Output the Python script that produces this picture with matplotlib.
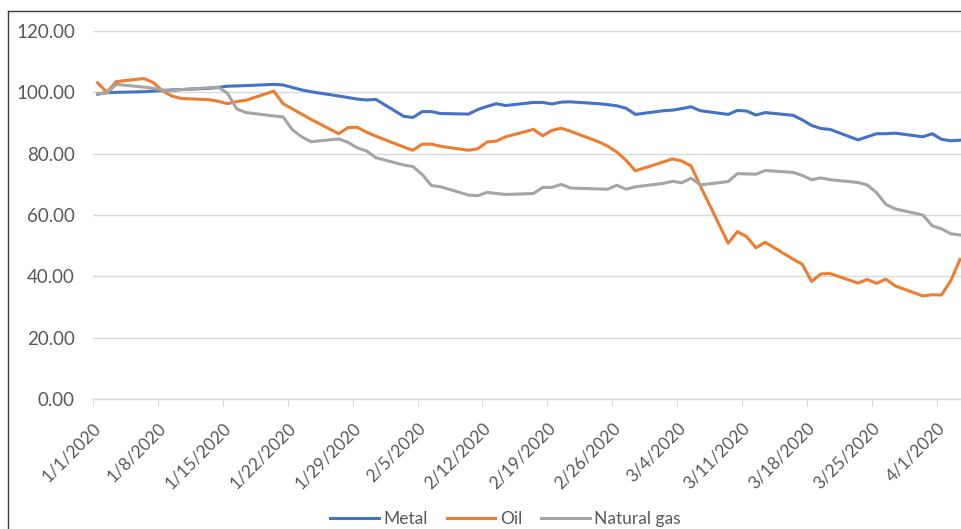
import numpy as np
import pandas as pd
import matplotlib
matplotlib.use("Agg")
import matplotlib.pyplot as plt
import matplotlib.transforms as mtransforms
from matplotlib.lines import Line2D

plt.rcParams['font.family'] = ['Lato', 'DejaVu Sans']

dates = pd.bdate_range('2020-01-01', '2020-04-03')
tick_dates = pd.date_range('2020-01-01', '2020-04-01', freq='7D')

metal = [99.4, 99.9, 100.0,
         100.2, 100.4, 100.6, 100.8, 100.9,
         101.3, 101.6, 102.0, 102.1, 102.2,
         102.6, 102.4, 101.6, 100.8, 100.2,
         98.8, 98.3, 97.8, 97.5, 97.7,
         92.2, 91.8, 93.7, 93.7, 93.1,
         92.9, 94.4, 95.4, 96.3, 95.7,
         96.7, 96.7, 96.2, 96.8, 96.9,
         96.3, 96.0, 95.6, 94.8, 92.8,
         94.0, 94.2, 94.7, 95.3, 94.0,
         92.8, 94.1, 93.9, 92.6, 93.4,
         92.5, 91.0, 89.2, 88.2, 87.9,
         84.5, 85.5, 86.5, 86.5, 86.7,
         85.5, 86.5,
         84.7, 84.2, 84.4]

oil = [103.1, 100.0, 103.5,
       104.5, 103.2, 100.5, 98.8, 98.0,
       97.6, 97.1, 96.3, 97.0, 97.4,
       100.4, 96.3, 94.6, 92.9, 91.2,
       86.5, 88.5, 88.6, 87.0, 85.7,
       82.2, 81.1, 83.1, 83.1, 82.4,
       81.1, 81.6, 83.8, 84.1, 85.5,
       87.9, 85.8, 87.6, 88.3, 87.3,
       83.9, 82.5, 80.5, 77.8, 74.4,
       77.3, 78.3, 77.6, 76.0, 69.5,
       50.8, 54.6, 52.9, 49.3, 51.1,
       45.6, 43.9, 38.3, 40.8, 40.9,
       37.8, 39.0, 37.7, 39.1, 36.9,
       33.6, 34.0,
       33.9, 38.5, 45.5]

gas = [99.6, 99.8, 102.6,
       101.7, 101.3, 100.7, 100.5, 100.9,
       101.5, 101.7, 99.7, 94.6, 93.4,
       92.3, 92.0, 87.8, 85.5, 83.9,
       84.8, 83.7, 81.9, 80.9, 78.7,
       76.3, 75.8, 73.2, 69.6, 69.2,
       66.5, 66.3, 67.4, 67.0, 66.7,
       67.0, 69.0, 69.0, 70.0, 68.8,
       68.5, 68.4, 69.7, 68.4, 69.2,
       70.3, 71.0, 70.5, 72.0, 69.8,
       70.9, 73.5, 73.4, 73.3, 74.5,
       73.9, 72.9, 71.5, 72.1, 71.5,
       70.6, 69.8, 67.3, 63.5, 62.0,
       60.0, 56.5,
       55.5, 53.9, 53.5]

series = [("Metal", metal, "#4472C4"),
          ("Oil", oil, "#ED7D31"),
          ("Natural gas", gas, "#A5A5A5")]

W, H = 962, 529
fig = plt.figure(figsize=(W / 100, H / 100), dpi=100)
ax = fig.add_axes([93 / W, 1 - 399 / H, (964.6 - 93) / W, (399 - 31) / H])

# excel date axis: each day is a slot, points sit in the middle of the slot
start = dates[0]
x = (dates - start).days.values + 0.5
for name, vals, c in series:
    ax.plot(x, vals, color=c, lw=2.2, label=name, solid_joinstyle='round')

ax.set_xlim(0, (dates[-1] - start).days + 1)
ax.set_ylim(0, 120)
ax.set_yticks(np.arange(0, 121, 20))
ax.set_yticklabels([f"{v:.2f}" for v in np.arange(0, 121, 20)])
ax.grid(axis='y', color='#D9D9D9', lw=1)
ax.set_axisbelow(True)
for s in ['top', 'right', 'left']:
    ax.spines[s].set_visible(False)
ax.spines['bottom'].set_color('#D9D9D9')
ax.spines['bottom'].set_linewidth(1)

ax.set_xticks((tick_dates - start).days.values)
ax.set_xticklabels([f"{d.month}/{d.day}/{d.year}" for d in tick_dates],
                   rotation=45, ha='right', va='center', rotation_mode='anchor')
ax.tick_params(axis='x', length=5, color='#D9D9D9', labelsize=12.5,
               labelcolor='#595959', pad=14)
ax.tick_params(axis='y', length=0, labelsize=13.5, labelcolor='#595959', pad=13)
off = mtransforms.ScaledTranslation(4 / 72, 0, fig.dpi_scale_trans)
for lbl in ax.get_xticklabels():
    lbl.set_transform(lbl.get_transform() + off)

fig.legend(loc='center', bbox_to_anchor=(505.5 / W, 1 - 519 / H), ncol=3,
           frameon=False, fontsize=12.5, handlelength=2.8, handletextpad=0.25,
           columnspacing=1.1, labelcolor='#595959')

# chart area border (cut by the image edges)
fig.add_artist(Line2D([8 / W, 8 / W], [0, 1 - 11 / H], transform=fig.transFigure,
                      color='#3a3a3a', lw=1))
fig.add_artist(Line2D([8 / W, 1], [1 - 11 / H, 1 - 11 / H], transform=fig.transFigure,
                      color='#3a3a3a', lw=1))

fig.savefig("out.png", dpi=100)
